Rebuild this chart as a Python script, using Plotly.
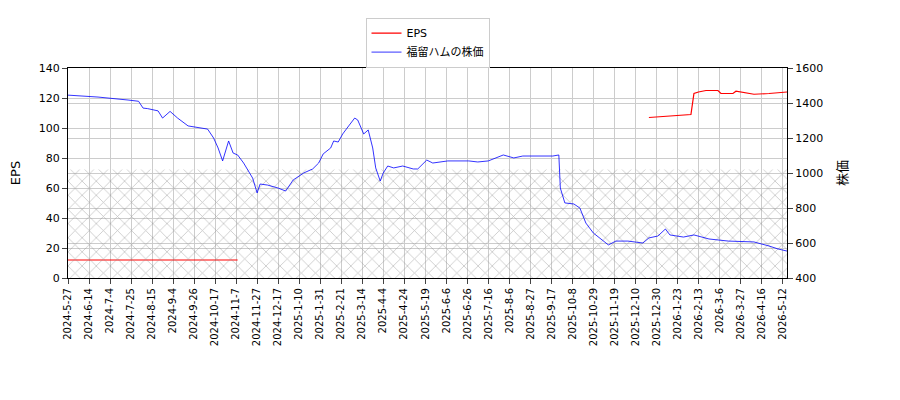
import plotly.graph_objects as go

tick_idx = list(range(0, 477, 14))
tick_labels = ["2024-5-27","2024-6-14","2024-7-4","2024-7-25","2024-8-15","2024-9-4","2024-9-26","2024-10-17","2024-11-7","2024-11-27","2024-12-17","2025-1-10","2025-1-31","2025-2-21","2025-3-14","2025-4-4","2025-4-24","2025-5-19","2025-6-6","2025-6-26","2025-7-16","2025-8-6","2025-8-27","2025-9-17","2025-10-8","2025-10-29","2025-11-19","2025-12-10","2025-12-30","2026-1-23","2026-2-13","2026-3-6","2026-3-27","2026-4-16","2026-5-12"]

price_idx = [0,20,40,47,50,53,60,63,68,73,80,93,97,100,103,107,110,113,117,120,123,126,128,133,140,145,150,157,163,167,170,175,177,180,183,187,191,193,197,200,203,205,208,210,213,217,223,230,233,239,243,253,267,273,280,290,297,303,313,323,327,328,331,337,341,345,350,357,360,365,373,383,387,393,398,401,410,417,427,440,457,467,473,479]
price = [1445,1434,1417,1410,1371,1368,1355,1314,1352,1314,1269,1251,1200,1143,1069,1183,1114,1103,1057,1011,971,886,937,931,914,897,960,1000,1023,1057,1109,1143,1183,1177,1223,1269,1314,1303,1223,1246,1143,1029,954,1000,1040,1029,1040,1023,1023,1074,1057,1069,1069,1063,1069,1103,1086,1097,1097,1097,1103,914,829,823,800,714,657,611,589,611,611,600,629,640,680,646,634,646,623,611,606,583,566,554]

eps_idx1 = [0,113]
eps1 = [12,12]
eps_idx2 = [387,400,415,417,420,425,433,435,443,445,453,457,467,473,479]
eps2 = [107,108,109,123,124,125,125,123,123,124.5,123,122.5,123,123.5,124]

hatch_x = [0,479]
hatch_top = [1020,1020]

fig = go.Figure()
fig.add_trace(go.Scatter(x=hatch_x, y=hatch_top, yaxis="y2", mode="lines", line=dict(width=0),
    fill="tozeroy", fillcolor="rgba(0,0,0,0)",
    fillpattern=dict(shape="x", fgcolor="#888888", bgcolor="rgba(0,0,0,0)", size=10, solidity=0.15),
    showlegend=False, hoverinfo="skip"))
fig.add_trace(go.Scatter(x=eps_idx1, y=eps1, mode="lines", line=dict(color="red", width=1.2), name="EPS"))
fig.add_trace(go.Scatter(x=eps_idx2, y=eps2, mode="lines", line=dict(color="red", width=1.2), name="EPS", showlegend=False))
fig.add_trace(go.Scatter(x=price_idx, y=price, yaxis="y2", mode="lines", line=dict(color="blue", width=0.8), name="福留ハムの株価"))

fig.update_layout(
    width=900, height=400, margin=dict(l=60, r=121, t=60, b=130, autoexpand=False),
    plot_bgcolor="white", paper_bgcolor="white",
    font=dict(family="DejaVu Sans, Noto Sans CJK JP", size=11, color="black"),
    legend=dict(x=0.5, y=1.24, xanchor="center", yanchor="top", bordercolor="#cccccc", borderwidth=1, bgcolor="white", font=dict(size=11)),
    xaxis=dict(range=[0,479], tickvals=tick_idx, ticktext=tick_labels, tickangle=-90, showgrid=True, gridcolor="#cccccc",
               showline=True, linecolor="black", mirror=True, ticks="outside", tickfont=dict(size=10), automargin=False),
    yaxis=dict(range=[0,140], dtick=20, title=dict(text="EPS"), showgrid=True, gridcolor="#cccccc",
               showline=True, linecolor="black", ticks="outside", zeroline=False, automargin=False),
    yaxis2=dict(range=[400,1600], dtick=200, overlaying="y", side="right", title=dict(text="株価"), showgrid=True, gridcolor="#cccccc",
                showline=True, linecolor="black", ticks="outside", zeroline=False, automargin=False),
)
fig.write_html("out.html")
